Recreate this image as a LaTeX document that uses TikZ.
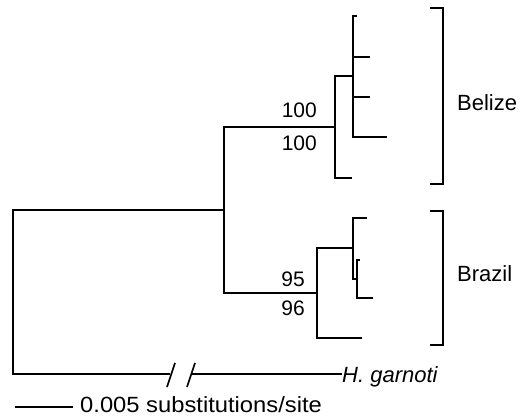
\documentclass[tikz,border=0pt]{standalone}
\usepackage{fontspec}
\setmainfont{Liberation Sans}
\begin{document}
\begin{tikzpicture}[x=1pt,y=-1pt,
  branch/.style={line width=2pt},
  brk/.style={line width=1.8pt},
  num/.style={inner sep=0pt,font=\fontsize{21}{21}\selectfont},
  lab/.style={inner sep=0pt,font=\fontsize{22}{22}\selectfont}]
\useasboundingbox (0,0) rectangle (525,419);
% internal nodes
\coordinate (R) at (13,292);
\coordinate (M) at (224,210);
\coordinate (B) at (335,127.5);
\coordinate (BI) at (353,76.5);
\coordinate (Z) at (317,293);
\coordinate (ZI) at (353,248);
\coordinate (ZS) at (357,279);
% tips
\coordinate (b1) at (357,16);
\coordinate (b2) at (370,57);
\coordinate (b3) at (370,97);
\coordinate (b4) at (387,137);
\coordinate (b5) at (352,178);
\coordinate (z1) at (367,218);
\coordinate (z2) at (360,260);
\coordinate (z3) at (373,298);
\coordinate (z4) at (362,338);
\coordinate (h1) at (170,374);
\coordinate (h2) at (191,374);
% outgroup label
\node[lab,anchor=base west,font=\fontsize{22}{22}\selectfont\itshape] (hg) at (342,383) {H. garnoti};
% branches
\draw[branch] (R) |- (M);
\draw[branch] (R) |- (h1);
\draw[branch] (h2) -- (hg.west |- h2);
\draw[branch] (M) |- (B);
\draw[branch] (M) |- (Z);
\draw[branch] (B) |- (BI);
\draw[branch] (B) |- (b5);
\draw[branch] (BI) |- (b1);
\draw[branch] (BI) |- (b2);
\draw[branch] (BI) |- (b3);
\draw[branch] (BI) |- (b4);
\draw[branch] (Z) |- (ZI);
\draw[branch] (Z) |- (z4);
\draw[branch] (ZI) |- (z1);
\draw[branch] (ZI) |- (ZS);
\draw[branch] (ZS) |- (z2);
\draw[branch] (ZS) |- (z3);
% break marks
\coordinate (s1a) at (167,387); \coordinate (s1b) at (175,363);
\coordinate (s2a) at (187,387); \coordinate (s2b) at (195,363);
\draw[line width=1.6pt] (s1a) -- (s1b);
\draw[line width=1.6pt] (s2a) -- (s2b);
% support values
\node[num,anchor=base east] (n1) at (317,118) {100};
\node[num,anchor=base east] (n2) at (317,151) {100};
\node[num,anchor=base east] (n3) at (305,287) {95};
\node[num,anchor=base east] (n4) at (305,316) {96};
% brackets
\coordinate (kb1) at (430,8); \coordinate (kb2) at (443,8);
\coordinate (kb3) at (443,184); \coordinate (kb4) at (430,184);
\draw[brk] (kb1) -- (kb2) -- (kb3) -- (kb4);
\coordinate (kz1) at (430,211); \coordinate (kz2) at (443,211);
\coordinate (kz3) at (443,345); \coordinate (kz4) at (430,345);
\draw[brk] (kz1) -- (kz2) -- (kz3) -- (kz4);
\node[lab,anchor=base west] (belize) at (457,111) {Belize};
\node[lab,anchor=base west] (brazil) at (457,282) {Brazil};
% scale bar
\coordinate (sc1) at (15,407); \coordinate (sc2) at (73,407);
\draw[line width=1.6pt] (sc1) -- (sc2);
\node[lab,anchor=base west] (sct) at (80,413) {\scalebox{1.08}[1]{0.005 substitutions/site}};
\end{tikzpicture}
\end{document}
